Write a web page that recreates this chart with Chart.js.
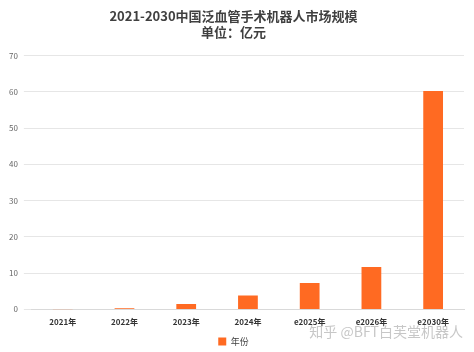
<!DOCTYPE html>
<html>
<head>
<meta charset="utf-8">
<script src="https://cdn.jsdelivr.net/npm/chart.js@4/dist/chart.umd.min.js"></script>
<style>
  html, body { margin: 0; padding: 0; background: #fff; }
  #wrap { width: 474px; height: 352px; position: relative; }
</style>
</head>
<body>
<div id="wrap"><canvas id="market-chart"></canvas></div>
<script>
const years = ['2021年', '2022年', '2023年', '2024年', 'e2025年', 'e2026年', 'e2030年'];
const marketSize = [0.05, 0.3, 1.5, 3.8, 7.3, 11.7, 60.2];
const titleLines = ['2021-2030中国泛血管手术机器人市场规模', '单位：亿元'];
const seriesName = '年份';
const watermark = '知乎 @BFT白芙堂机器人';

const FONT = '"Noto Sans CJK SC", "Noto Sans", sans-serif';

// watermark text in the lower right corner
const watermarkPlugin = {
  id: 'watermark',
  afterDraw(chart) {
    const ctx = chart.ctx;
    ctx.save();
    ctx.font = '14px ' + FONT;
    ctx.fillStyle = 'rgba(175,175,175,0.7)';
    ctx.textAlign = 'right';
    ctx.textBaseline = 'middle';
    ctx.fillText(watermark, 463, 332);
    ctx.restore();
  }
};

function renderMarketChart() {
  const canvas = document.getElementById('market-chart');
  if (!canvas) return;
  new Chart(canvas, {
    type: 'bar',
    data: {
      labels: years,
      datasets: [{
        label: seriesName,
        data: marketSize,
        backgroundColor: '#FF6A22',
        borderWidth: 0,
        barPercentage: 0.64,
        categoryPercentage: 0.5,
      }],
    },
    options: {
      responsive: true,
      maintainAspectRatio: false,
      animation: false,
      layout: { padding: { left: 3, right: 10, top: 0, bottom: -4 } },
      plugins: {
        title: {
          display: true,
          text: titleLines,
          color: '#404040',
          font: { family: FONT, size: 13, weight: 'bold', lineHeight: 1.25 },
          padding: { top: 8, bottom: 15 },
        },
        legend: {
          position: 'bottom',
          labels: {
            color: '#404040',
            font: { family: FONT, size: 9 },
            boxWidth: 8,
            boxHeight: 8,
            padding: 2,
          },
        },
        tooltip: { enabled: false },
      },
      scales: {
        x: {
          grid: { display: false, drawTicks: false },
          border: { color: '#d9d9d9' },
          ticks: { color: '#333', font: { family: FONT, size: 8, weight: 'bold' }, padding: 8 },
        },
        y: {
          min: 0,
          max: 70,
          grid: { color: '#e6e6e6' },
          border: { display: false },
          ticks: { stepSize: 10, color: '#666', font: { family: FONT, size: 8 }, padding: 6 },
        },
      },
    },
    plugins: [watermarkPlugin],
  });
}

document.addEventListener('DOMContentLoaded', renderMarketChart);
</script>
</body>
</html>
